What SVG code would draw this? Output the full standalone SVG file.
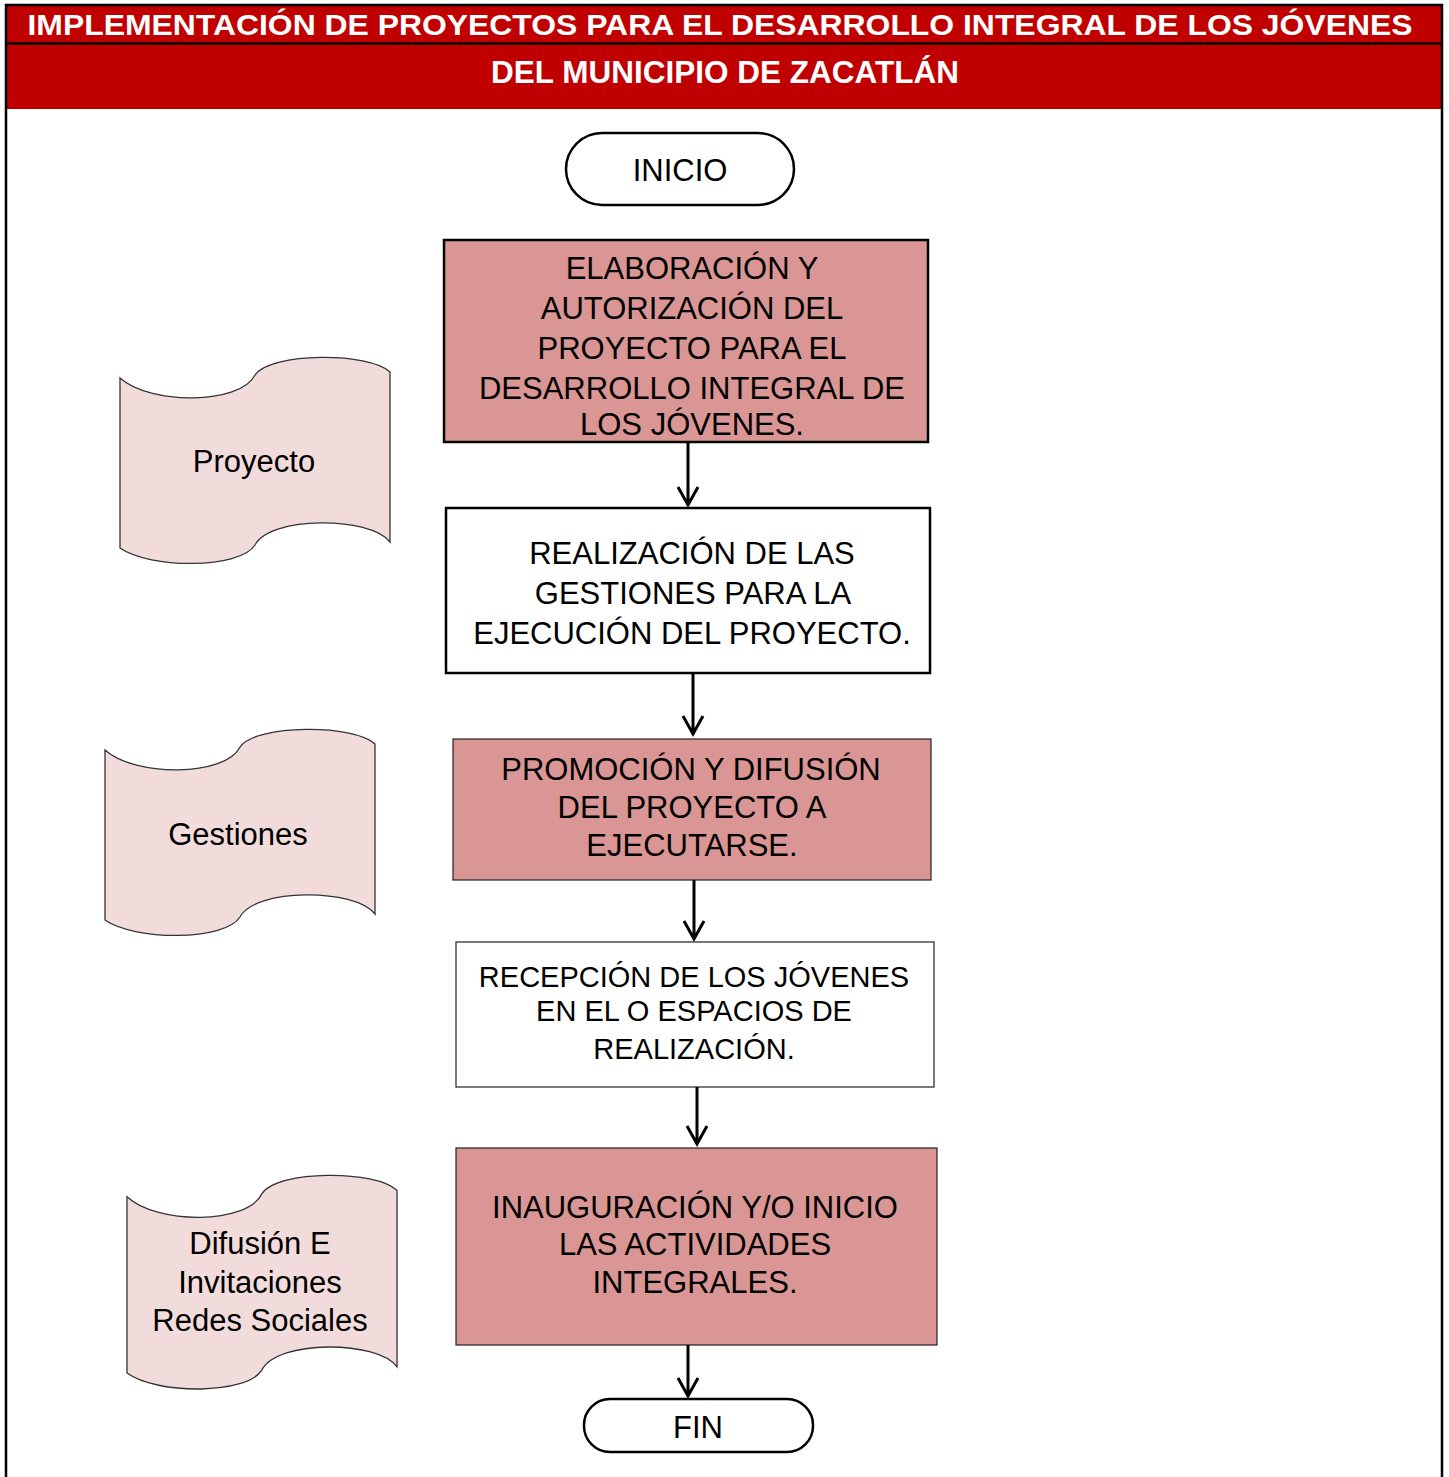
<svg xmlns="http://www.w3.org/2000/svg" width="1449" height="1477" viewBox="0 0 1449 1477">
<defs>
<style>
.hdr{font-family:"Liberation Sans",Arial,sans-serif;font-weight:bold;font-size:31.5px;fill:#fff;text-anchor:middle}
.t{font-family:"Liberation Sans",Arial,sans-serif;font-size:31px;fill:#000;text-anchor:middle}
.doc{fill:#f2dcdb;stroke:#333;stroke-width:1.3}
.pink{fill:#d99694}
.conn{stroke:#000;stroke-width:3;fill:none}
</style>
<path id="tape" d="M0,20 C30,47 120,47 135,17 C150,-6 250,-6 270,14 L270,184 C250,158 150,158 135,187 C120,211 30,211 0,190 Z"/>
</defs>
<rect x="0" y="0" width="1449" height="1477" fill="#fff"/>
<g id="header">
<rect x="6" y="5" width="1436" height="104" fill="#c00000"/>
<line x1="6" y1="43.5" x2="1442" y2="43.5" stroke="#000" stroke-width="2.5"/>
<text class="hdr" x="720" y="35" style="font-size:30px" textLength="1385" lengthAdjust="spacingAndGlyphs">IMPLEMENTACIÓN DE PROYECTOS PARA EL DESARROLLO INTEGRAL DE LOS JÓVENES</text>
<text class="hdr" x="725" y="83">DEL MUNICIPIO DE ZACATLÁN</text>
</g>
<g id="frame" stroke="#000" stroke-width="2.5" fill="none">
<polyline points="6,1477 6,5 1442,5 1442,1477"/>
</g>
<g id="inicio">
<rect x="566" y="133" width="228" height="72" rx="36" fill="#fff" stroke="#000" stroke-width="2.5"/>
<text class="t" x="680" y="181">INICIO</text>
</g>
<g id="elaboracion">
<rect x="444" y="240" width="484" height="202" class="pink" stroke="#000" stroke-width="2.5"/>
<text class="t" x="692" y="279">ELABORACIÓN Y</text>
<text class="t" x="692" y="319">AUTORIZACIÓN DEL</text>
<text class="t" x="692" y="359">PROYECTO PARA EL</text>
<text class="t" x="692" y="399">DESARROLLO INTEGRAL DE</text>
<text class="t" x="692" y="435">LOS JÓVENES.</text>
</g>
<g id="realizacion">
<rect x="446" y="508" width="484" height="165" fill="#fff" stroke="#000" stroke-width="2.5"/>
<text class="t" x="692" y="564">REALIZACIÓN DE LAS</text>
<text class="t" x="693" y="604">GESTIONES PARA LA</text>
<text class="t" x="692" y="644">EJECUCIÓN DEL PROYECTO.</text>
</g>
<g id="promocion">
<rect x="453" y="739" width="478" height="141" class="pink" stroke="#222" stroke-width="1.2"/>
<text class="t" x="691" y="780">PROMOCIÓN Y DIFUSIÓN</text>
<text class="t" x="692" y="818">DEL PROYECTO A</text>
<text class="t" x="692" y="856">EJECUTARSE.</text>
</g>
<g id="recepcion">
<rect x="456" y="942" width="478" height="145" fill="#fff" stroke="#222" stroke-width="1.2"/>
<text class="t" x="694" y="987" style="font-size:29px">RECEPCIÓN DE LOS JÓVENES</text>
<text class="t" x="694" y="1021" style="font-size:29px">EN EL O ESPACIOS DE</text>
<text class="t" x="694" y="1059" style="font-size:29px">REALIZACIÓN.</text>
</g>
<g id="inauguracion">
<rect x="456" y="1148" width="481" height="197" class="pink" stroke="#222" stroke-width="1.2"/>
<text class="t" x="695" y="1218">INAUGURACIÓN Y/O INICIO</text>
<text class="t" x="695" y="1255">LAS ACTIVIDADES</text>
<text class="t" x="695" y="1293">INTEGRALES.</text>
</g>
<g id="fin">
<rect x="584" y="1399" width="229" height="53" rx="26" fill="#fff" stroke="#000" stroke-width="2.5"/>
<text class="t" x="698" y="1438">FIN</text>
</g>
<g id="doc-proyecto">
<use href="#tape" x="120" y="358" class="doc"/>
<text class="t" x="254" y="472">Proyecto</text>
</g>
<g id="doc-gestiones">
<use href="#tape" x="105" y="730" class="doc"/>
<text class="t" x="238" y="845">Gestiones</text>
</g>
<g id="doc-difusion">
<use href="#tape" transform="translate(127,1176) scale(1,1.037)" class="doc" vector-effect="non-scaling-stroke"/>
<text class="t" x="260" y="1254">Difusión E</text>
<text class="t" x="260" y="1293">Invitaciones</text>
<text class="t" x="260" y="1331">Redes Sociales</text>
</g>
<g id="connectors" class="conn">
<path d="M688,442 V505 M678,487 L688,505 L698,487"/>
<path d="M693,673 V734 M683,716 L693,734 L703,716"/>
<path d="M694,880 V939 M684,921 L694,939 L704,921"/>
<path d="M697,1087 V1144 M687,1126 L697,1144 L707,1126"/>
<path d="M688,1345 V1396 M678,1378 L688,1396 L698,1378"/>
</g>
</svg>
